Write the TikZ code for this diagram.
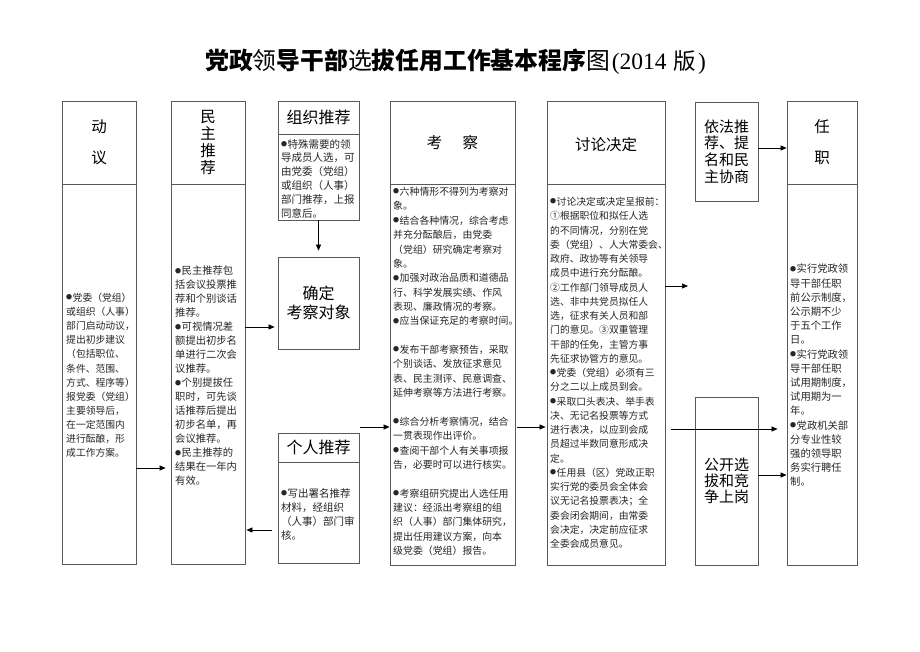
\documentclass[tikz,border=0pt]{standalone}
\usepackage{fontspec}
\setmainfont{Noto Sans CJK SC}
\newfontfamily\tnr{Liberation Serif}
\usetikzlibrary{arrows.meta}
\newcommand\bul{\makebox[6.5pt][l]{\raisebox{1.6pt}{\fontsize{6}{6}\selectfont ●}}}
\tikzset{
  box/.style={draw=black!65, line width=0.8pt, inner sep=0pt},
  hd/.style={font=\fontsize{15.5}{17}\selectfont, align=center, inner sep=0pt},
  bd/.style={anchor=north west, inner sep=0pt, align=left, text=black!85},
  arr/.style={-{Triangle[length=6pt,width=5pt]}, line width=0.7pt},
}
\begin{document}
\begin{tikzpicture}[x=1pt,y=-1pt]
\fill[white] (0,0) rectangle (920,651);
\useasboundingbox (0,0) rectangle (920,651);

% title
\node[inner sep=0pt, anchor=west, font=\fontsize{23.8}{26}\selectfont] (title) at (205,62)
  {{\bfseries 党政}领{\bfseries 导干部}选{\bfseries 拔任用工作基本程序}图\hspace{2pt}{\tnr\fontsize{23.5}{26}\selectfont (2014\hspace{7pt}}{\fontsize{22.5}{26}\selectfont 版}\hspace{2pt}{\tnr\fontsize{23.5}{26}\selectfont )}};

% boxes
\node[box, minimum width=74pt, minimum height=83pt, font=\fontsize{15.5}{31}\selectfont, align=center] (dyH) at (99,142.5) {动\\议};
\node[box, minimum width=74pt, minimum height=380pt] (dyB) at (99,374) {};
\node[box, minimum width=74pt, minimum height=83pt, font=\fontsize{15.5}{16.7}\selectfont, align=center] (mzH) at (208,142.5) {民\\主\\推\\荐};
\node[box, minimum width=74pt, minimum height=380pt] (mzB) at (208,374) {};
\node[box, minimum width=81pt, minimum height=33pt, font=\fontsize{16}{18}\selectfont] (zzH) at (318.5,117.5) {组织推荐};
\node[box, minimum width=81pt, minimum height=86pt] (zzB) at (318.5,177) {};
\node[box, minimum width=81pt, minimum height=92pt, font=\fontsize{16}{18.5}\selectfont, align=center] (qd) at (318.5,303) {确定\\考察对象};
\node[box, minimum width=81pt, minimum height=29pt, font=\fontsize{16}{18}\selectfont] (grH) at (318.5,447.5) {个人推荐};
\node[box, minimum width=81pt, minimum height=101pt] (grB) at (318.5,512.5) {};
\node[box, minimum width=125pt, minimum height=83pt, font=\fontsize{15.5}{17}\selectfont] (kcH) at (452.5,142.5) {考\hspace{1.3em}察};
\node[box, minimum width=125pt, minimum height=381pt] (kcB) at (452.5,374.5) {};
\node[box, minimum width=118pt, minimum height=83pt] (tlH) at (606,142.5) {};
\node[box, minimum width=118pt, minimum height=381pt] (tlB) at (606,374.5) {};
\node[box, minimum width=63pt, minimum height=99pt, font=\fontsize{15}{16.7}\selectfont, align=left] (yf) at (726.5,151.5) {依法推\\荐、提\\名和民\\主协商};
\node[box, minimum width=63pt, minimum height=168pt, font=\fontsize{15}{16}\selectfont, align=left] (gk) at (726.5,481) {公开选\\拔和竞\\争上岗};
\node[box, minimum width=70pt, minimum height=83pt, font=\fontsize{15.5}{31}\selectfont, align=center] (rzH) at (822,142.5) {任\\职};
\node[box, minimum width=70pt, minimum height=381pt] (rzB) at (822,374.5) {};

\node[hd] (tlL) at (606,145) {讨论决定};

% body texts
\node[bd, font=\fontsize{9.8}{14.1}\selectfont] (dyT) at (66,293)
 {\bul 党委（党组）\\或组织（人事）\\部门启动动议，\\提出初步建议\\（包括职位、\\条件、范围、\\方式、程序等）\\报党委（党组）\\主要领导后，\\在一定范围内\\进行酝酿，形\\成工作方案。};
\node[bd, font=\fontsize{10.3}{14}\selectfont] (mzT) at (175,266)
 {\bul 民主推荐包\\括会议投票推\\荐和个别谈话\\推荐。\\\bul 可视情况差\\额提出初步名\\单进行二次会\\议推荐。\\\bul 个别提拔任\\职时，可先谈\\话推荐后提出\\初步名单，再\\会议推荐。\\\bul 民主推荐的\\结果在一年内\\有效。};
\node[bd, font=\fontsize{10.5}{13.8}\selectfont] (zzT) at (281,139)
 {\bul 特殊需要的领\\导成员人选，可\\由党委（党组）\\或组织（人事）\\部门推荐，上报\\同意后。};
\node[bd, font=\fontsize{10.5}{14.2}\selectfont] (grT) at (281,488)
 {\bul 写出署名推荐\\材料，经组织\\（人事）部门审\\核。};
\node[bd, font=\fontsize{9.9}{14.36}\selectfont] (kcT) at (393,187)
 {\bul 六种情形不得列为考察对\\象。\\\bul 结合各种情况，综合考虑\\并充分酝酿后，由党委\\（党组）研究确定考察对\\象。\\\bul 加强对政治品质和道德品\\行、科学发展实绩、作风\\表现、廉政情况的考察。\\\bul 应当保证充足的考察时间。\\[14.36pt]\bul 发布干部考察预告，采取\\个别谈话、发放征求意见\\表、民主测评、民意调查、\\延伸考察等方法进行考察。\\[14.36pt]\bul 综合分析考察情况，结合\\一贯表现作出评价。\\\bul 查阅干部个人有关事项报\\告，必要时可以进行核实。\\[14.36pt]\bul 考察组研究提出人选任用\\建议：经派出考察组的组\\织（人事）部门集体研究，\\提出任用建议方案，向本\\级党委（党组）报告。};
\node[bd, font=\fontsize{9.8}{14.25}\selectfont] (tlT) at (550,197)
 {\bul 讨论决定或决定呈报前：\\①根据职位和拟任人选\\的不同情况，分别在党\\委（党组）、人大常委会、\\政府、政协等有关领导\\成员中进行充分酝酿。\\②工作部门领导成员人\\选、非中共党员拟任人\\选，征求有关人员和部\\门的意见。③双重管理\\干部的任免，主管方事\\先征求协管方的意见。\\\bul 党委（党组）必须有三\\分之二以上成员到会。\\\bul 采取口头表决、举手表\\决、无记名投票等方式\\进行表决，以应到会成\\员超过半数同意形成决\\定。\\\bul 任用县（区）党政正职\\实行党的委员会全体会\\议无记名投票表决；全\\委会闭会期间，由常委\\会决定，决定前应征求\\全委会成员意见。};
\node[bd, font=\fontsize{10.3}{14.2}\selectfont] (rzT) at (790,264)
 {\bul 实行党政领\\导干部任职\\前公示制度，\\公示期不少\\于五个工作\\日。\\\bul 实行党政领\\导干部任职\\试用期制度，\\试用期为一\\年。\\\bul 党政机关部\\分专业性较\\强的领导职\\务实行聘任\\制。};

% connectors
\coordinate (kcIn) at (360,427);
\coordinate (tlOut) at (688,286);
\draw[arr, shorten >=5pt] (dyB.east |- 0,468) -- (mzB.west |- 0,468);
\draw[arr, shorten >=3pt] (mzB.east |- 0,327) -- (qd.west |- 0,327);
\draw[arr, shorten >=6pt] (zzB.south) -- (qd.north);
\draw[arr, shorten <=6pt, shorten >=1pt] (grB.west |- 0,530) -- (mzB.east |- 0,530);
\draw[arr] (kcIn) -- (kcB.west |- kcIn);
\draw[arr, shorten <=2pt, shorten >=1pt] (kcB.east |- 0,427) -- (tlB.west |- 0,427);
\draw[arr] (tlB.east |- tlOut) -- (tlOut);
\draw[arr, shorten <=6pt, shorten >=9pt] (tlB.east |- 0,429) -- (rzB.west |- 0,429);
\draw[arr] (yf.east |- 0,148) -- (rzH.west |- 0,148);
\draw[arr] (gk.east |- 0,475) -- (rzB.west |- 0,475);
\end{tikzpicture}
\end{document}
